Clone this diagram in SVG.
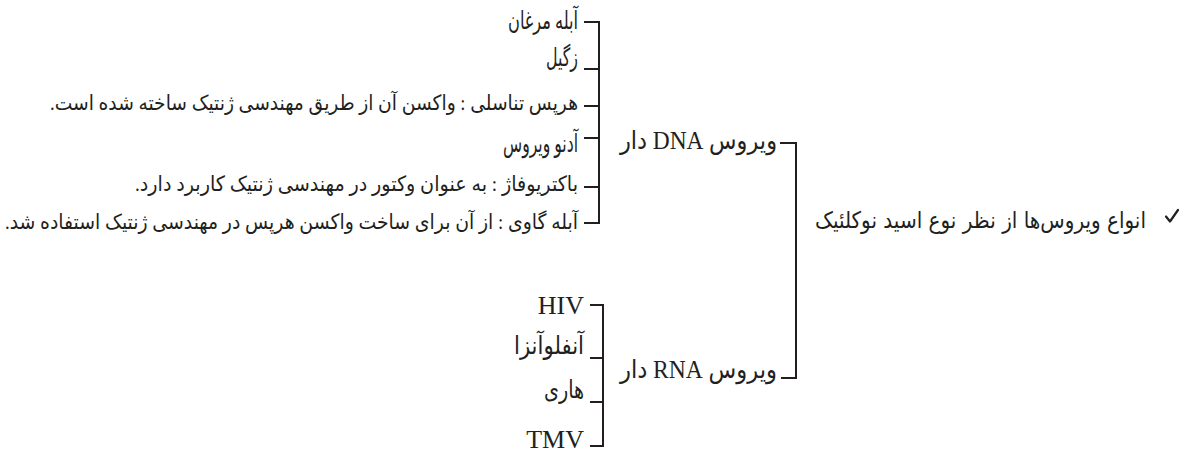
<svg xmlns="http://www.w3.org/2000/svg" width="1204" height="452" viewBox="0 0 1204 452">
<style>
.fa{font-family:"Liberation Serif","DejaVu Sans",serif;fill:#231f20;direction:rtl;text-anchor:start}
.sm{font-size:21px}
.md{font-size:25px}
.lb{font-size:25px}
.lat{font-family:"Liberation Serif",serif;font-size:26px;fill:#231f20;text-anchor:end}
.main{font-family:"DejaVu Sans",sans-serif;font-size:23px;fill:#231f20;direction:rtl;text-anchor:start}
.br{fill:none;stroke:#231f20;stroke-width:2}
</style>
<rect width="1204" height="452" fill="#fff"/>
<g id="connectors">
<path class="br" d="M584,22H599V223H584M584,69H599M584,106H599M584,138H599M584,187H599"/>
<path class="br" d="M590,305H603V446H590M590,358H603M590,402H603"/>
<path class="br" d="M780,143H796V378H781"/>
</g>
<g id="root"><text class="main" x="1146" y="228" textLength="331" lengthAdjust="spacingAndGlyphs">انواع ویروس‌ها از نظر نوع اسید نوکلئیک</text>
<path d="M1166,216.5L1170,221.5L1178,210" fill="none" stroke="#231f20" stroke-width="2.2" stroke-linecap="round" stroke-linejoin="round"/></g>
<g id="dna"><text class="fa lb" x="777" y="149" textLength="157" lengthAdjust="spacingAndGlyphs">ویروس <tspan font-size="26">DNA</tspan> دار</text></g>
<g id="rna"><text class="fa lb" x="777" y="378" textLength="157" lengthAdjust="spacingAndGlyphs">ویروس <tspan font-size="26">RNA</tspan> دار</text></g>
<g id="n1"><text class="fa md" x="578" y="29" textLength="70" lengthAdjust="spacingAndGlyphs">آبله مرغان</text></g>
<g id="n2"><text class="fa md" x="578" y="66" textLength="32" lengthAdjust="spacingAndGlyphs">زگیل</text></g>
<g id="n3"><text class="fa sm" x="578" y="110" textLength="528" lengthAdjust="spacingAndGlyphs">هرپس تناسلی : واکسن آن از طریق مهندسی ژنتیک ساخته شده است.</text></g>
<g id="n4"><text class="fa md" x="578" y="152" textLength="75" lengthAdjust="spacingAndGlyphs">آدنو ویروس</text></g>
<g id="n5"><text class="fa sm" x="578" y="191" textLength="443" lengthAdjust="spacingAndGlyphs">باکتریوفاژ : به عنوان وکتور در مهندسی ژنتیک کاربرد دارد.</text></g>
<g id="n6"><text class="fa sm" x="578" y="229" textLength="573" lengthAdjust="spacingAndGlyphs">آبله گاوی : از آن برای ساخت واکسن هرپس در مهندسی ژنتیک استفاده شد.</text></g>
<g id="r1"><text class="lat" x="584" y="314">HIV</text></g>
<g id="r2"><text class="fa md" x="584" y="354" textLength="70" lengthAdjust="spacingAndGlyphs">آنفلوآنزا</text></g>
<g id="r3"><text class="fa md" x="584" y="398" textLength="40" lengthAdjust="spacingAndGlyphs">هاری</text></g>
<g id="r4"><text class="lat" x="584" y="448">TMV</text></g>
</svg>
